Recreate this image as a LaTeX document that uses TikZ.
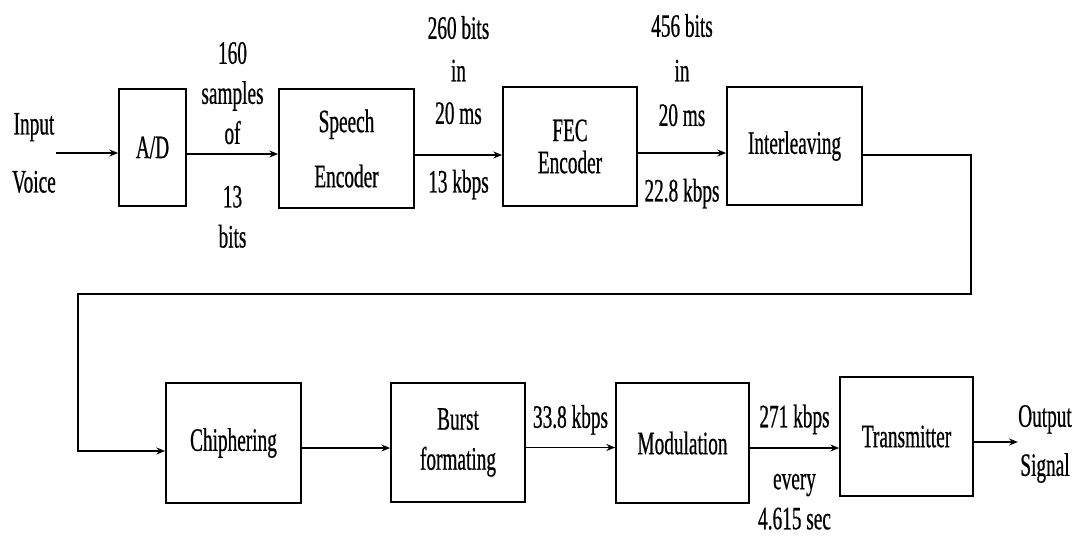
\documentclass[tikz,border=0pt]{standalone}
\usepackage{fontspec}
\setmainfont{Liberation Serif}[FakeStretch=0.59, FakeBold=0.6]
\usetikzlibrary{arrows.meta, positioning}
\newcommand{\gsmfont}{\fontsize{18.6}{22.8}\selectfont}
\tikzset{
  gsm/box/.style={rectangle, draw=black, fill=white,
    minimum width=26.8mm, minimum height=23.8mm,
    font=\gsmfont, align=center, line width=1pt, inner sep=1pt},
  gsm/arr/.style={-{Stealth[length=5pt,width=4pt]}, line width=0.9pt},
  gsm/lbl/.style={font=\gsmfont, align=center, inner sep=0pt}
}
\begin{document}
\begin{tikzpicture}[x=1cm, y=1cm]
  \useasboundingbox (0,0) rectangle (21.46,10.70);
  % upper chain
  \node[gsm/lbl] at (0.68, 7.64) (inp) {Input\\[0.36cm]Voice};
  \node[gsm/box, minimum width=13.4mm, minimum height=23.4mm] at (3.05, 7.75) (ad) {A/D};
  \node[gsm/box, minimum width=27mm] at (6.93, 7.73) (sp) {Speech\\[0.3cm]Encoder};
  \node[gsm/box] at (11.40, 7.77) (fec) {FEC\\[-0.16cm]Encoder};
  \node[gsm/box, minimum width=27mm, minimum height=23.6mm] at (15.89, 7.78) (il) {Interleaving};
  % lower chain
  \node[gsm/box, minimum width=27mm, minimum height=24mm] at (4.67, 1.84) (ci) {Chiphering};
  \node[gsm/box] at (9.16, 1.85) (bf) {Burst\\formating};
  \node[gsm/box, minimum width=26.6mm, minimum height=24mm] at (13.65, 1.84) (mo) {Modulation};
  \node[gsm/box, minimum width=26.6mm] at (18.13, 1.97) (tx) {Transmitter};
  \node[gsm/lbl] at (20.90, 1.82) (out) {Output\\[0.18cm]Signal};

  \coordinate (r) at (19.42, 4.82);
  \coordinate (l) at (1.56, 4.82);

  \draw[gsm/arr] (inp.east) -- (inp.east -| ad.west);
  \draw[gsm/arr] ([yshift=-1.3mm]ad.east) --
        node[gsm/lbl, above=1.8mm]{160\\samples\\of}
        node[gsm/lbl, below=6.2mm]{13\\bits}
        ([yshift=-1.3mm]ad.east -| sp.west);
  \draw[gsm/arr] ([yshift=-1.3mm]sp.east) --
        node[gsm/lbl, above=6mm]{260 bits\\[0.05cm]in\\[0.05cm]20 ms}
        node[gsm/lbl, below=2.8mm]{13 kbps}
        ([yshift=-1.3mm]sp.east -| fec.west);
  \draw[gsm/arr] ([yshift=-1.3mm]fec.east) --
        node[gsm/lbl, above=5.2mm]{456 bits\\[0.09cm]in\\[0.09cm]20 ms}
        node[gsm/lbl, below=5mm]{22.8 kbps}
        ([yshift=-1.3mm]fec.east -| il.west);
  % back to the second row
  \draw[gsm/arr] ([yshift=-1.8mm]il.east) -| (r) -- (l) |- ([yshift=-1.6mm]ci.west);
  \draw[gsm/arr] ([yshift=-1mm]ci.east) -- ([yshift=-1mm]ci.east -| bf.west);
  \draw[gsm/arr] ([yshift=-1mm]bf.east) --
        node[gsm/lbl, above=2.4mm]{33.8 kbps}
        ([yshift=-1mm]bf.east -| mo.west);
  \draw[gsm/arr] ([yshift=-1mm]mo.east) --
        node[gsm/lbl, above=2.6mm]{271 kbps}
        node[gsm/lbl, below=5mm]{every\\4.615 sec}
        ([yshift=-1mm]mo.east -| tx.west);
  \draw[gsm/arr] ([yshift=-1.1mm]tx.east) -- ([yshift=-1.1mm]tx.east -| out.west);
\end{tikzpicture}
\end{document}
